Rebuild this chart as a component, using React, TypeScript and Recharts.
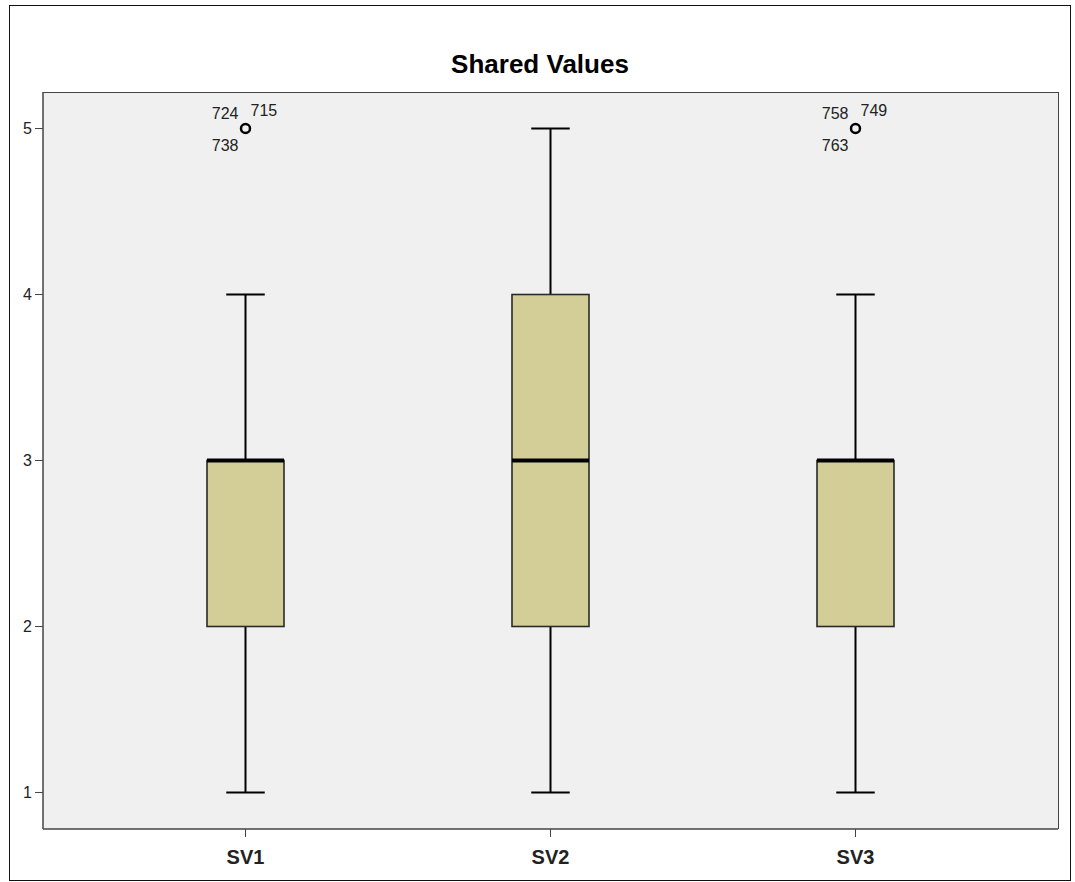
import { ComposedChart, Bar, Scatter, XAxis, YAxis, CartesianGrid } from 'recharts';

const categories = ['SV1', 'SV2', 'SV3'];
const mins = [1, 1, 1];
const q1s = [2, 2, 2];
const medians = [3, 3, 3];
const q3s = [3, 4, 3];
const maxs = [4, 5, 4];
const outliers: (number | null)[] = [5, null, 5];
const outlierIds = [['724', '715', '738'], [], ['758', '749', '763']];
const yTicks = [1, 2, 3, 4, 5];

const data = categories.map((name, i) => ({
  name,
  range: [mins[i], maxs[i]],
  min: mins[i],
  q1: q1s[i],
  median: medians[i],
  q3: q3s[i],
  max: maxs[i],
  outlier: outliers[i],
  ids: outlierIds[i],
}));

const FONT = '"Liberation Sans", Arial, sans-serif';

function BoxShape(props: any) {
  const { x, y, width, height, payload } = props;
  const top = Math.min(y, y + height);
  const h = Math.abs(height);
  const span = payload.max - payload.min;
  const py = (v: number) => top + ((payload.max - v) / span) * h;
  const cx = x + width / 2;
  const cap = width / 2;
  return (
    <g>
      <line x1={cx} x2={cx} y1={py(payload.max)} y2={py(payload.q3)} stroke="#000" strokeWidth={2} />
      <line x1={cx} x2={cx} y1={py(payload.q1)} y2={py(payload.min)} stroke="#000" strokeWidth={2} />
      <line x1={cx - cap / 2} x2={cx + cap / 2} y1={py(payload.max)} y2={py(payload.max)} stroke="#000" strokeWidth={2} />
      <line x1={cx - cap / 2} x2={cx + cap / 2} y1={py(payload.min)} y2={py(payload.min)} stroke="#000" strokeWidth={2} />
      <rect
        x={x}
        y={py(payload.q3)}
        width={width}
        height={py(payload.q1) - py(payload.q3)}
        fill="#D3CE98"
        stroke="#2a2a2a"
        strokeWidth={1.6}
      />
      <line x1={x} x2={x + width} y1={py(payload.median)} y2={py(payload.median)} stroke="#000" strokeWidth={4} />
    </g>
  );
}

function OutlierShape(props: any) {
  const { cx, cy, payload } = props;
  if (payload.outlier == null || cx == null || cy == null) return <g />;
  const [a, b, c] = payload.ids;
  return (
    <g fontFamily={FONT} fontSize={16} fill="#222">
      <circle cx={cx} cy={cy} r={4.5} fill="#F0F0F0" stroke="#000" strokeWidth={2.5} />
      <text x={cx - 7} y={cy - 10} textAnchor="end">{a}</text>
      <text x={cx + 5} y={cy - 13} textAnchor="start">{b}</text>
      <text x={cx - 7} y={cy + 22} textAnchor="end">{c}</text>
    </g>
  );
}

export default function App() {
  return (
    <div style={{ position: 'absolute', left: 0, top: 0, width: 1075, height: 882, background: '#fff', fontFamily: FONT }}>
      <div
        style={{
          position: 'absolute',
          left: 9,
          top: 5,
          width: 1062,
          height: 876,
          border: '1.5px solid #111',
          boxSizing: 'border-box',
        }}
      />
      <div
        style={{
          position: 'absolute',
          left: 0,
          width: 1080,
          top: 49,
          textAlign: 'center',
          fontSize: 26,
          fontWeight: 'bold',
          color: '#000',
        }}
      >
        Shared Values
      </div>
      <div style={{ position: 'absolute', left: 0, top: 0 }}>
        <ComposedChart width={1075} height={882} data={data} margin={{ top: 92, right: 17, bottom: 13, left: 9 }}>
          <CartesianGrid fill="#F0F0F0" horizontal={false} vertical={false} />
          <XAxis
            dataKey="name"
            type="category"
            padding={{ left: 50, right: 50 }}
            height={40}
            axisLine={{ stroke: '#444', strokeWidth: 1.5 }}
            tickLine={{ stroke: '#444' }}
            tickSize={8}
            tickMargin={13}
            tick={{ fill: '#222', fontSize: 20, fontWeight: 'bold', fontFamily: FONT }}
          />
          <YAxis
            type="number"
            domain={[0.78, 5.22]}
            ticks={yTicks}
            width={34}
            axisLine={{ stroke: '#444', strokeWidth: 1.5 }}
            tickLine={{ stroke: '#444' }}
            tickSize={8}
            tickMargin={3}
            tick={{ fill: '#222', fontSize: 16, fontFamily: FONT }}
          />
          <Bar dataKey="range" barSize={77} shape={<BoxShape />} isAnimationActive={false} />
          <Scatter dataKey="outlier" shape={<OutlierShape />} isAnimationActive={false} />
        </ComposedChart>
      </div>
      <div
        style={{
          position: 'absolute',
          left: 43,
          top: 91.5,
          width: 1015.5,
          height: 737,
          borderTop: '1.5px solid #444',
          borderRight: '1.5px solid #444',
          boxSizing: 'border-box',
          pointerEvents: 'none',
        }}
      />
    </div>
  );
}
